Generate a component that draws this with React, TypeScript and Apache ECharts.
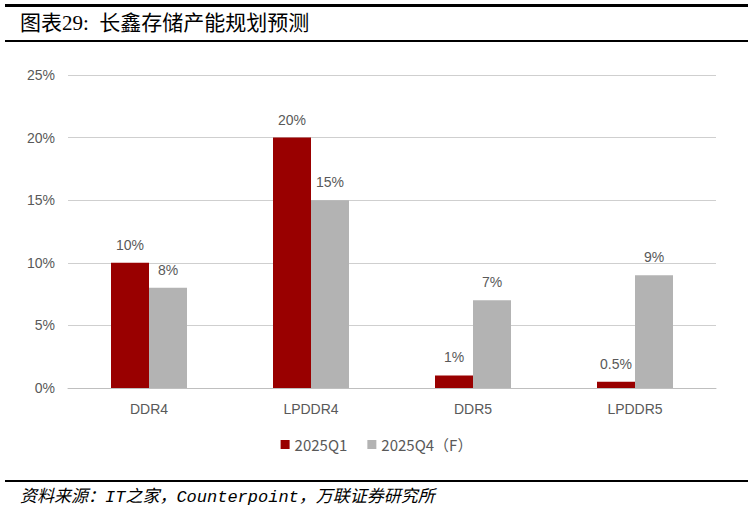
import React, { useEffect, useRef } from "react";
import * as echarts from "echarts";

const categories = ["DDR4", "LPDDR4", "DDR5", "LPDDR5"];
const seriesNames = ["2025Q1", "2025Q4（F）"];
const q1Values = [10, 20, 1, 0.5];
const q4Values = [8, 15, 7, 9];
const yTicks = [0, 5, 10, 15, 20, 25];

export default function App() {
  const ref = useRef<HTMLDivElement>(null);
  useEffect(() => {
    if (!ref.current) return;
    const chart = echarts.init(ref.current, null, { renderer: "svg" });
    const labelStyle = {
      show: true,
      position: "top" as const,
      distance: 11,
      color: "#595959",
      fontSize: 14,
      fontFamily: "Liberation Sans, Arial, sans-serif",
      formatter: (p: any) => `${p.value}%`,
    };
    chart.setOption({
      animation: false,
      backgroundColor: "#ffffff",
      grid: { left: 68, right: 37, top: 75, bottom: 124 },
      legend: {
        data: seriesNames,
        left: "center",
        top: 432,
        itemWidth: 9,
        itemHeight: 9,
        itemGap: 20,
        icon: "rect",
        textStyle: { color: "#595959", fontSize: 15, fontFamily: "Noto Sans CJK SC, sans-serif" },
      },
      xAxis: {
        type: "category",
        data: categories,
        axisLine: { lineStyle: { color: "#bfbfbf", width: 1 } },
        axisTick: { show: false },
        axisLabel: { color: "#595959", fontSize: 14, margin: 14, fontFamily: "Liberation Sans, Arial, sans-serif" },
      },
      yAxis: {
        type: "value",
        min: yTicks[0],
        max: yTicks[yTicks.length - 1],
        interval: 5,
        axisLine: { show: false },
        axisTick: { show: false },
        splitLine: { lineStyle: { color: "#cfcfcf", width: 1 } },
        axisLabel: {
          color: "#595959",
          fontSize: 14,
          margin: 13,
          fontFamily: "Liberation Sans, Arial, sans-serif",
          formatter: (v: number) => `${v}%`,
        },
      },
      series: [
        {
          name: seriesNames[0],
          type: "bar",
          data: q1Values,
          itemStyle: { color: "#990000" },
          barWidth: 38,
          barGap: "0%",
          label: labelStyle,
        },
        {
          name: seriesNames[1],
          type: "bar",
          data: q4Values,
          itemStyle: { color: "#b3b3b3" },
          barWidth: 38,
          barGap: "0%",
          label: labelStyle,
        },
      ],
      graphic: [
        { type: "rect", shape: { x: 5, y: 4, width: 743, height: 3 }, style: { fill: "#000" } },
        { type: "rect", shape: { x: 5, y: 40, width: 743, height: 2 }, style: { fill: "#000" } },
        {
          type: "text",
          x: 20,
          y: 23,
          style: {
            text: "图表29:  长鑫存储产能规划预测",
            fill: "#000",
            fontSize: 21,
            fontFamily: "Liberation Serif, Noto Sans CJK SC, serif",
            verticalAlign: "middle",
          },
        },
        { type: "rect", shape: { x: 5, y: 480, width: 743, height: 2 }, style: { fill: "#000" } },
        {
          type: "text",
          x: 20,
          y: 497,
          style: {
            text: "资料来源：IT之家，Counterpoint，万联证券研究所",
            fill: "#000",
            fontSize: 17,
            fontStyle: "italic",
            fontFamily: "Liberation Mono, Noto Sans CJK SC, monospace",
            verticalAlign: "middle",
          },
        },
      ],
    });
    return () => chart.dispose();
  }, []);
  return (
    <div
      ref={ref}
      style={{ position: "fixed", left: 0, top: 0, width: 753, height: 512 }}
    />
  );
}
